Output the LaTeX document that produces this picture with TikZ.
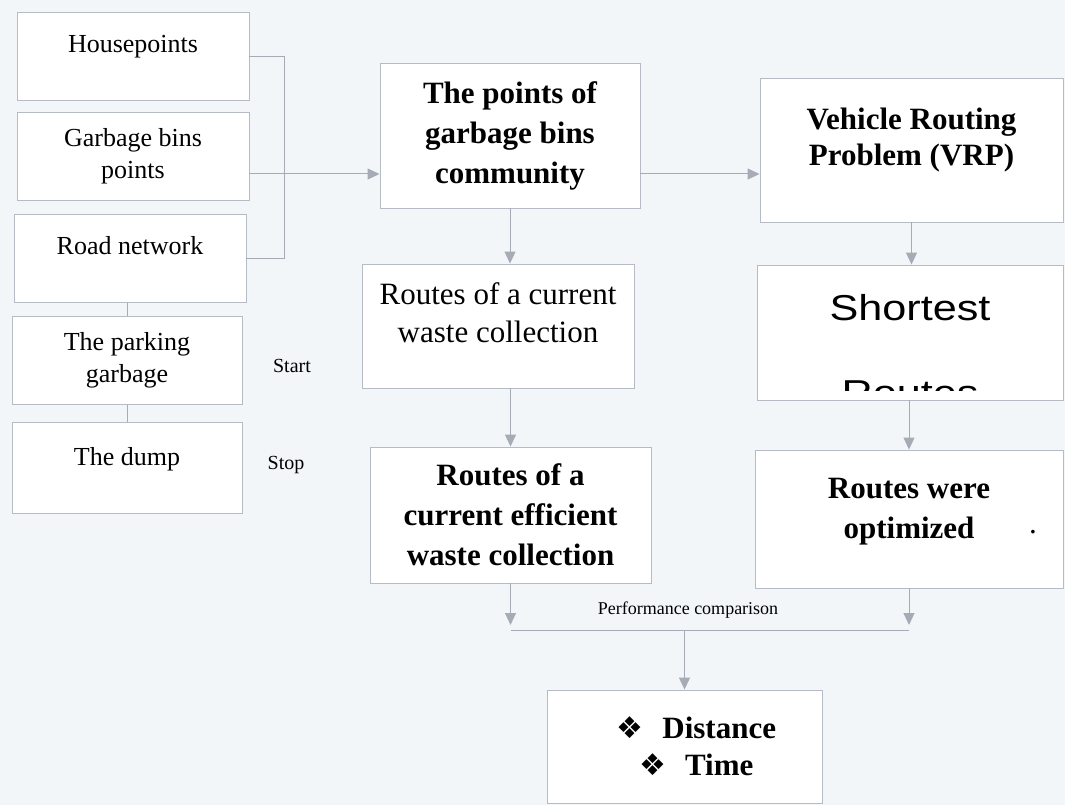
\documentclass[tikz,border=0pt]{standalone}
\usepackage{fontspec}
\setmainfont{Liberation Serif}
\newfontfamily\symfont{DejaVu Sans}
\newfontfamily\arialfont[FakeStretch=1.2]{Liberation Sans}
\usetikzlibrary{
    positioning,
    arrows.meta
}
\definecolor{paper}{RGB}{243,246,249}
\definecolor{frame}{RGB}{182,188,198}
\definecolor{link}{RGB}{166,172,182}
\newcommand{\liftup}[2][10pt]{\raisebox{#1}[\height][\depth]{\begin{tabular}{@{}c@{}}#2\end{tabular}}}
\newcommand{\diamondbullet}{{\symfont\mdseries\fontsize{30}{30}\selectfont ❖}}
\tikzset{%
    box/.style={%
        rectangle,
        draw=frame,
        fill=white,
        line width=0.9pt,
        inner sep=0pt,
        align=center
    },
    input/.style={%
        box,
        minimum width=232pt,
        minimum height=88pt,
        font=\fontsize{26}{32}\selectfont
    },
    bold box/.style={%
        box,
        font=\bfseries\fontsize{31}{40}\selectfont
    },
    note/.style={%
        font=\fontsize{20}{24}\selectfont
    },
    link/.style={%
        draw=link,
        line width=1pt
    },
    arrow/.style={%
        link,
        -{Triangle[width=11pt,length=12pt]}
    },
}

\begin{document}
\begin{tikzpicture}[x=1pt, y=-1pt]
    \useasboundingbox (0,0) rectangle (1065,805);
    \fill[paper] (0,0) rectangle (1065,805);

    % inputs
    \node[input] (house) at (133,56.5) {\liftup{Housepoints}};
    \node[input] (bins) at (133,156.5) {Garbage bins\\points};
    \node[input] (road) at (130,258.5) {\liftup{Road network}};
    \node[input, minimum width=230pt] (park) at (127,360.5) {The parking\\garbage};
    \node[input, minimum width=230pt, minimum height=91pt] (dump) at (127,467.5) {\liftup[8pt]{The dump}};

    \node[note] (start) at (292,366) {Start};
    \node[note] (stop) at (286,465) {Stop};

    % current routes
    \node[bold box, minimum width=260pt, minimum height=145pt] (pts) at (510,135.5) {The points of\\garbage bins\\community};
    \node[box, minimum width=272pt, minimum height=124pt, font=\fontsize{31}{38}\selectfont] (cur) at (498,326) {\liftup{Routes of a current\\waste collection}};
    \node[bold box, minimum width=281pt, minimum height=136pt] (eff) at (510.5,515) {Routes of a\\current efficient\\waste collection};

    % VRP side
    \node[bold box, minimum width=303pt, minimum height=144pt, font=\bfseries\fontsize{31}{36}\selectfont] (vrp) at (911.5,150) {\liftup{Vehicle Routing\\Problem (VRP)}};
    \node[box, minimum width=306pt, minimum height=135pt] (sr) at (910,332.5) {};
    \begin{scope}
        \clip (sr.north west) rectangle ([yshift=10pt]sr.south east);
        \node[anchor=north, inner sep=0pt, align=center, font=\arialfont\fontsize{36}{85}\selectfont] (srtext) at ([yshift=-30pt]sr.north) {Shortest\\Routes};
    \end{scope}
    \node[bold box, minimum width=308pt, minimum height=138pt] (opt) at (909,519) {\liftup[9pt]{Routes were\\optimized}};
    \node[font=\fontsize{31}{31}\selectfont, inner sep=0pt] (dot) at (1033,532) {.};

    % comparison
    \node[font=\fontsize{18}{22}\selectfont] (perf) at (688,610) {Performance comparison};
    \node[bold box, minimum width=275pt, minimum height=113pt, font=\bfseries\fontsize{31}{37}\selectfont] (dist) at (684.5,746.5) {\hspace*{24pt}\diamondbullet\hspace{0.6em}Distance\\\hspace*{24pt}\diamondbullet\hspace{0.6em}Time};

    % connectors
    \coordinate (join) at (284,174);
    \coordinate (cmp) at (684.5,630);
    \draw[link] (house.east) -| (join |- road.east) -- (road.east);
    \draw[link] (bins.east |- join) -- (join);
    \draw[arrow] (join) -- (pts.west |- join);
    \draw[link] (park.north |- road.south) -- (park.north);
    \draw[link] (park.south) -- (dump.north);
    \draw[arrow] (pts.east |- join) -- (vrp.west |- join);
    \draw[arrow] (pts.south) -- (pts.south |- cur.north);
    \draw[arrow] (eff.north |- cur.south) -- (eff.north);
    \draw[arrow] (vrp.south) -- (vrp.south |- sr.north);
    \draw[arrow] (opt.north |- sr.south) -- (opt.north);
    \draw[arrow, shorten >=5pt] (eff.south) -- (eff.south |- cmp);
    \draw[arrow, shorten >=5pt] (opt.south) -- (opt.south |- cmp);
    \draw[link] (eff.south |- cmp) -- (opt.south |- cmp);
    \draw[arrow] (cmp) -- (dist.north);
\end{tikzpicture}
\end{document}
